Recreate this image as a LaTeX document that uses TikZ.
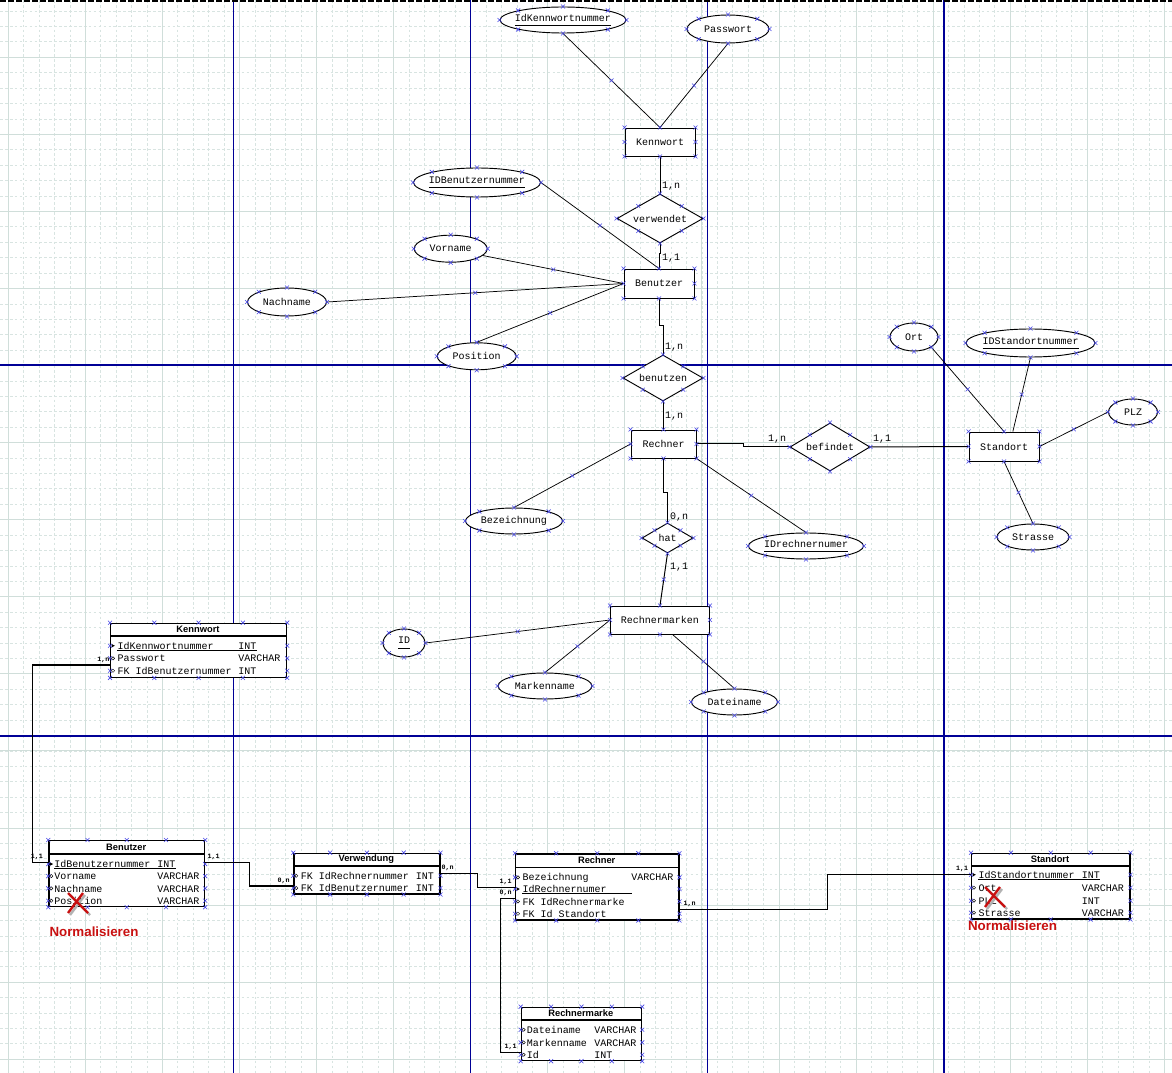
\documentclass[tikz,border=0pt]{standalone}
\usepackage{fontspec}
\newfontfamily\ermono{Liberation Mono}
\newfontfamily\ersans{Liberation Sans}
\usetikzlibrary{shapes.geometric,shapes.misc,calc}
\definecolor{gridc}{RGB}{208,222,218}
\definecolor{gridm}{RGB}{216,228,225}
\definecolor{pagec}{RGB}{0,0,150}
\definecolor{hndc}{RGB}{70,70,230}
\definecolor{normc}{RGB}{200,16,16}
\newdimen\pu \pu=0.75pt
\newcommand\erfont{\ermono\fontsize{7.5}{9}\selectfont}
\newcommand\ul[1]{\underline{#1\vphantom{g}}}
\newcommand\hnd[1]{\foreach \an in {north,south,east,west,north east,north west,south east,south west}{\pic at (#1.\an) {hx};}}
\newcommand\thnd[2]{%
  \foreach \pp in {0,0.25,0.5,0.75,1}{\pic at ($(#1.north west)!\pp!(#1.north east)$) {hx};
    \pic at ($(#1.south west)!\pp!(#1.south east)$) {hx};}%
  \foreach \rw in {#2}{\pic at (#1.west |- \rw) {hx}; \pic at (#1.east |- \rw) {hx};}}
\newcommand\aline[2]{\draw[aline] (#1) -- (#2) ($(#1)!.5!(#2)$) pic {hx};}
\tikzset{
  hx/.pic={\draw[hndc,line width=0.45pt] (-2,-2) -- (2,2) (-2,2) -- (2,-2);},
  pkm/.pic={\fill (-1.5,-1.8) -- (1.8,0) -- (-1.5,1.8) -- cycle;},
  atm/.pic={\draw[line width=0.35pt] (-1.6,0) -- (0,-1.6) -- (1.6,0) -- (0,1.6) -- cycle;},
  nox/.pic={\draw[black!30,line width=1.8pt] (-8,-8) -- (12,12) (7,-8) -- (-8,12);
    \draw[normc,line width=1.8pt] (-10,-10) -- (10,10) (5,-10) -- (-10,10);}
}
\begin{document}
\begin{tikzpicture}[x=0.75pt,y=-0.75pt,
  minor/.style={gridm,line width=0.6pt,dash pattern=on 2pt off 1.7pt},
  major/.style={gridc,line width=0.75pt},
  page/.style={pagec,line width=1.2pt},
  ent/.style={draw,fill=white,line width=0.7pt,inner sep=0pt,minimum height=28\pu,font=\erfont},
  attr/.style={draw,fill=white,ellipse,line width=0.7pt,inner xsep=-6pt,inner ysep=0pt,minimum height=26\pu,font=\erfont},
  rel/.style={draw,fill=white,diamond,aspect=1.75,line width=0.7pt,inner sep=0pt,font=\erfont},
  card/.style={inner sep=0pt,font=\erfont},
  aline/.style={line width=0.55pt},
  rline/.style={line width=0.75pt},
  tbl/.style={draw,fill=white,line width=0.9pt,inner sep=0pt,anchor=north west},
  hline/.style={line width=0.9pt},
  ttl/.style={inner sep=0pt,font=\ersans\bfseries\fontsize{7}{8}\selectfont},
  fld/.style={inner sep=0pt,anchor=base west,font=\erfont},
  uline/.style={line width=0.5pt},
  tcard/.style={inner sep=0pt,font=\ermono\bfseries\fontsize{5}{6}\selectfont},
  conn/.style={line width=1pt},
  norm/.style={inner sep=0pt,text=normc,font=\ersans\bfseries\fontsize{10}{12}\selectfont}]
\useasboundingbox (0,0) rectangle (1172,1073);
\fill[white] (0,0) rectangle (1172,1073);
% grid and pages
\foreach \k in {0,...,75} \draw[minor] ({8.3+15.414*\k},0) -- ++(0,1073);
\foreach \k in {0,...,68} \draw[minor] (0,{11.06+15.414*\k}) -- ++(1172,0);
\foreach \k in {0,...,15} \draw[major] ({8.3+77.07*\k},0) -- ++(0,1073);
\foreach \k in {0,...,13} \draw[major] (0,{57.3+77.07*\k}) -- ++(1172,0);
\foreach \px in {233.5,470.3,707.3,944} \draw[page] (\px,0) -- ++(0,1073);
\foreach \py in {365,736} \draw[page] (0,\py) -- ++(1172,0);
\draw[line width=1.7pt,dash pattern=on 4.5pt off 1.5pt] (0,1.1) -- (1172,1.1);
% entities and relations
\node[ent,minimum width=70\pu] (kennwort) at (660,142) {Kennwort};
\node[ent,minimum width=70\pu,minimum height=29\pu] (benutzer) at (659,283.5) {Benutzer};
\node[ent,minimum width=65\pu] (rechner) at (663.5,444) {Rechner};
\node[ent,minimum width=70\pu,minimum height=29\pu] (standort) at (1004,446.5) {Standort};
\node[ent,minimum width=99\pu] (rmarken) at (660,620) {Rechnermarken};
\node[rel,minimum width=86\pu,minimum height=49\pu] (verwendet) at (660,218.5) {verwendet};
\node[rel,minimum width=80\pu,minimum height=46\pu] (benutzen) at (663,378) {benutzen};
\node[rel,minimum width=80\pu,minimum height=48\pu] (befindet) at (830,447) {befindet};
\node[rel,minimum width=51\pu,minimum height=30\pu] (hat) at (667.5,538) {hat};
% attributes
\node[attr,minimum width=126\pu] (idkw) at (563,20) {\ul{IdKennwortnummer}};
\node[attr,minimum width=82\pu,minimum height=28\pu] (passwort) at (728,29) {Passwort};
\node[attr,minimum width=127\pu,minimum height=29\pu] (idben) at (477,182.5) {\ul{IDBenutzernummer}};
\node[attr,minimum width=73\pu,minimum height=27\pu] (vorname) at (450.7,248.7) {Vorname};
\node[attr,minimum width=79\pu,minimum height=28\pu] (nachname) at (287,302) {Nachname};
\node[attr,minimum width=79\pu,minimum height=27\pu] (position) at (476.7,356.3) {Position};
\node[attr,minimum width=48\pu,minimum height=28\pu] (ort) at (914,337) {Ort};
\node[attr,minimum width=129\pu,minimum height=28\pu] (idst) at (1030.5,343) {\ul{IDStandortnummer}};
\node[attr,minimum width=49\pu] (plz) at (1133,412) {PLZ};
\node[attr,minimum width=72\pu] (strasse) at (1033,537) {Strasse};
\node[attr,minimum width=115\pu] (idrech) at (806,546) {\ul{IDrechnernumer}};
\node[attr,minimum width=97\pu] (bezeichnung) at (514,521) {Bezeichnung};
\node[attr,minimum width=42\pu,minimum height=28\pu] (id) at (404,643) {\ul{ID}};
\node[attr,minimum width=94\pu] (markenname) at (545,686) {Markenname};
\node[attr,minimum width=86\pu] (dateiname) at (734.5,702) {Dateiname};
\coordinate (stN) at ($(standort.north)!.25!(standort.north east)$);
\coordinate (rmS) at ($(rmarken.south)!.25!(rmarken.south east)$);
\aline{idkw.south}{kennwort.north}
\aline{passwort.south}{kennwort.north}
\aline{idben.east}{benutzer.north}
\aline{vorname.-12}{benutzer.west}
\aline{nachname.east}{benutzer.west}
\aline{position.north}{benutzer.west}
\aline{ort.south east}{standort.north}
\aline{idst.south}{stN}
\aline{plz.west}{standort.east}
\aline{standort.south}{strasse.north}
\aline{rechner.south east}{idrech.north}
\aline{rechner.west}{bezeichnung.north}
\aline{id.east}{rmarken.west}
\aline{markenname.north}{rmarken.west}
\aline{rmS}{dateiname.north}
\draw[rline] (kennwort.south) -- (verwendet.north);
\draw[rline] (verwendet.south) -- ++(0,10) -| (benutzer.north);
\draw[rline] (benutzer.south) -- ++(0,27) -| (benutzen.north);
\draw[rline] (benutzen.south) -- ++(0,12) -| (rechner.north);
\draw[rline] (rechner.east) -- ++(47,0) |- (befindet.west);
\draw[rline] (befindet.east) -- (standort.west);
\draw[rline] (rechner.south) -- ++(0,34) -| (hat.north);
\draw[rline] (hat.south) -- (rmarken.north) ($(hat.south)!.5!(rmarken.north)$) pic {hx};
\node[card] (k1) at (671,186) {1,n};
\node[card] (k2) at (671,258) {1,1};
\node[card] (k3) at (674,347) {1,n};
\node[card] (k4) at (674,416) {1,n};
\node[card] (k5) at (777,439) {1,n};
\node[card] (k6) at (882,439) {1,1};
\node[card] (k7) at (679,517) {0,n};
\node[card] (k8) at (679,567) {1,1};
\foreach \n in {kennwort,benutzer,rechner,standort,rmarken,verwendet,benutzen,befindet,hat,idkw,passwort,idben,vorname,nachname,position,ort,idst,plz,strasse,idrech,bezeichnung,id,markenname,dateiname}{\hnd{\n}}
% table Kennwort
\node[tbl,minimum width=176\pu,minimum height=54\pu] (tKw) at (110,622.7) {};
\draw[hline] (tKw.west |- 0,636) -- (tKw.east |- 0,636);
\node[ttl] (tKwT) at (198,629.3) {Kennwort};
\node[fld] (kw1) at (117.3,649.3) {IdKennwortnummer};
\node[fld] (kw1t) at (238,649.3) {INT};
\node[fld] (kw2) at (117.3,661.6) {Passwort};
\node[fld] (kw2t) at (238,661.6) {VARCHAR};
\node[fld] (kw3) at (117.3,674.3) {FK IdBenutzernummer};
\node[fld] (kw3t) at (238,674.3) {INT};
\draw[uline] ($(kw1.base west)+(0,0.8)$) -- ($(kw1t.base east)+(0,0.8)$);
% table Benutzer
\node[tbl,minimum width=155.7\pu,minimum height=66\pu] (tBe) at (48.3,840) {};
\draw[hline] (tBe.west |- 0,854) -- (tBe.east |- 0,854);
\node[ttl] (tBeT) at (126.2,847) {Benutzer};
\node[fld] (be1) at (54,867.6) {IdBenutzernummer};
\node[fld] (be1t) at (157,867.6) {INT};
\node[fld] (be2) at (54,879.3) {Vorname};
\node[fld] (be2t) at (157,879.3) {VARCHAR};
\node[fld] (be3) at (54,892) {Nachname};
\node[fld] (be3t) at (157,892) {VARCHAR};
\node[fld] (be4) at (54,904.3) {Position};
\node[fld] (be4t) at (157,904.3) {VARCHAR};
\draw[uline] ($(be1.base west)+(0,0.8)$) -- ($(be1t.base east)+(0,0.8)$);
% table Verwendung
\node[tbl,minimum width=146\pu,minimum height=40.6\pu] (tVe) at (293.3,852.7) {};
\draw[hline] (tVe.west |- 0,866) -- (tVe.east |- 0,866);
\node[ttl] (tVeT) at (366.3,859.3) {Verwendung};
\node[fld] (ve1) at (300.7,879.3) {FK IdRechnernummer};
\node[fld] (ve1t) at (415.7,879.3) {INT};
\node[fld] (ve2) at (300.7,891.6) {FK IdBenutzernumer};
\node[fld] (ve2t) at (415.7,891.6) {INT};
% table Rechner
\node[tbl,minimum width=163.3\pu,minimum height=66\pu] (tRe) at (515,853.3) {};
\draw[hline] (tRe.west |- 0,867.3) -- (tRe.east |- 0,867.3);
\node[ttl] (tReT) at (596.7,860.3) {Rechner};
\node[fld] (re1) at (522.3,880) {Bezeichnung};
\node[fld] (re1t) at (631,880) {VARCHAR};
\node[fld] (re2) at (522.3,892.6) {IdRechnernumer};
\node[fld] (re3) at (522.3,905) {FK IdRechnermarke};
\node[fld] (re4) at (522.3,917.3) {FK Id Standort};
\draw[uline] ($(re2.base west)+(0,0.8)$) -- ($(re2.base west -| re1t.west)+(1,0.8)$);
% table Rechnermarke
\node[tbl,minimum width=120.3\pu,minimum height=53.3\pu] (tRm) at (520.7,1006.7) {};
\draw[hline] (tRm.west |- 0,1020) -- (tRm.east |- 0,1020);
\node[ttl] (tRmT) at (580.8,1013.3) {Rechnermarke};
\node[fld] (rm1) at (526.7,1033.3) {Dateiname};
\node[fld] (rm1t) at (594,1033.3) {VARCHAR};
\node[fld] (rm2) at (526.7,1046) {Markenname};
\node[fld] (rm2t) at (594,1046) {VARCHAR};
\node[fld] (rm3) at (526.7,1058.3) {Id};
\node[fld] (rm3t) at (594,1058.3) {INT};
% table Standort
\node[tbl,minimum width=158.3\pu,minimum height=65.6\pu] (tSt) at (971,852.7) {};
\draw[hline] (tSt.west |- 0,866) -- (tSt.east |- 0,866);
\node[ttl] (tStT) at (1050,859.3) {Standort};
\node[fld] (st1) at (978.3,878.3) {IdStandortnummer};
\node[fld] (st1t) at (1081.7,878.3) {INT};
\node[fld] (st2) at (978.3,891) {Ort};
\node[fld] (st2t) at (1081.7,891) {VARCHAR};
\node[fld] (st3) at (978.3,904) {PLZ};
\node[fld] (st3t) at (1081.7,904) {INT};
\node[fld] (st4) at (978.3,916) {Strasse};
\node[fld] (st4t) at (1081.7,916) {VARCHAR};
\draw[uline] ($(st1.base west)+(0,0.8)$) -- ($(st1t.base east)+(0,0.8)$);
% row markers and handles
\foreach \rw/\tb in {kw1/tKw,be1/tBe,re2/tRe,st1/tSt} \pic at ($(\tb.west |- \rw)+(3,0)$) {pkm};
\foreach \rw/\tb in {kw2/tKw,kw3/tKw,be2/tBe,be3/tBe,be4/tBe,ve1/tVe,ve2/tVe,re1/tRe,re3/tRe,re4/tRe,rm1/tRm,rm2/tRm,rm3/tRm,st2/tSt,st3/tSt,st4/tSt} \pic at ($(\tb.west |- \rw)+(3,0)$) {atm};
\thnd{tKw}{kw1,kw2,kw3}
\thnd{tBe}{be1,be2,be3,be4}
\thnd{tVe}{ve1,ve2}
\thnd{tRe}{re1,re2,re3,re4}
\thnd{tRm}{rm1,rm2,rm3}
\thnd{tSt}{st1,st2,st3,st4}
% table connectors
\draw[conn] (tKw.west |- 0,665) -- ++(-77.7,0) |- (tBe.west |- 0,862.3);
\draw[conn] (tBe.east |- 0,862.3) -- ++(44.3,0) |- (tVe.west |- 0,886);
\draw[conn] (tVe.east |- 0,873.3) -- ++(36.7,0) |- (tRe.west |- 0,887.3);
\draw[conn] (tRe.west |- 0,898.3) -- ++(-14.3,0) |- (tRm.west |- 0,1052.7);
\draw[conn] (tRe.east |- 0,909.3) -- ++(147.7,0) |- (tSt.west |- 0,874.3);
\node[tcard] (q1) at (103.5,660) {1,n};
\node[tcard] (q2) at (37,857) {1,1};
\node[tcard] (q3) at (213.5,857) {1,1};
\node[tcard] (q4) at (283.5,881) {0,n};
\node[tcard] (q5) at (447.5,868.3) {0,n};
\node[tcard] (q6) at (505.5,881.7) {1,1};
\node[tcard] (q7) at (505.5,893.3) {0,n};
\node[tcard] (q8) at (510.5,1047.3) {1,1};
\node[tcard] (q9) at (689.5,904) {1,n};
\node[tcard] (q10) at (962,869.3) {1,1};
% normalisation notes
\pic at (78,903) {nox};
\pic at (995,897) {nox};
\node[norm] (norm1) at (94,932) {Normalisieren};
\node[norm] (norm2) at (1012.5,925.7) {Normalisieren};
\end{tikzpicture}
\end{document}
